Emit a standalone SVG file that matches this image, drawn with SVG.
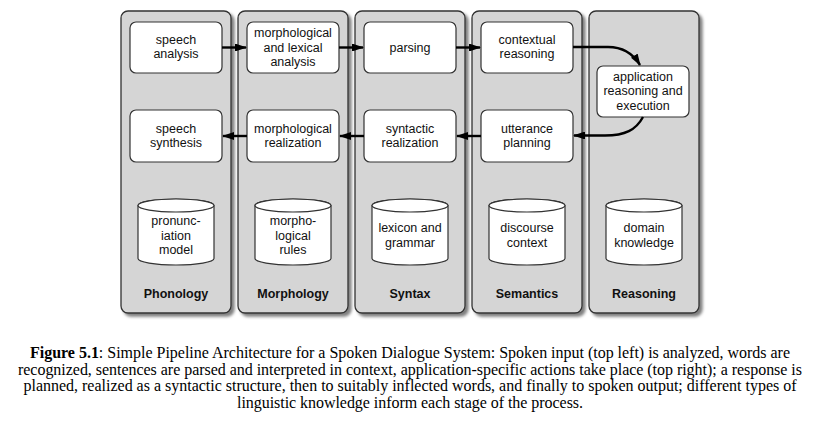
<svg xmlns="http://www.w3.org/2000/svg" width="820" height="425" viewBox="0 0 820 425">
<defs>
<filter id="sh" x="-10%" y="-10%" width="125%" height="125%">
<feDropShadow dx="3" dy="3" stdDeviation="1.6" flood-color="#000" flood-opacity="0.5"/>
</filter>
<marker id="ah" viewBox="0 0 12 8" refX="11" refY="4" markerWidth="5" markerHeight="3.33" markerUnits="strokeWidth" orient="auto">
<path d="M0,0 L12,4 L0,8 Z" fill="#000"/>
</marker>
<style>
.panel{fill:#d5d5d5;stroke:#333;stroke-width:1.3;filter:url(#sh)}
.box{fill:#fff;stroke:#333;stroke-width:1.2}
.cyl{fill:#fff;stroke:#333;stroke-width:1.2}
.t{font-family:"Liberation Sans",Arial,sans-serif;font-size:12.5px;fill:#111;text-anchor:middle}
.lab{font-family:"Liberation Sans",Arial,sans-serif;font-size:12.5px;font-weight:bold;fill:#111;text-anchor:middle}
.cap{font-family:"Liberation Serif","Times New Roman",serif;font-size:16px;fill:#000;text-anchor:middle}
.c{fill:none;stroke:#000;stroke-width:2.4;marker-end:url(#ah)}
</style>
</defs>
<rect width="820" height="425" fill="#fff"/>

<g id="panel-phonology"><rect class="panel" x="121" y="11" width="110" height="302" rx="7"/><text class="lab" x="176" y="298">Phonology</text></g>
<g id="panel-morphology"><rect class="panel" x="238" y="11" width="110" height="302" rx="7"/><text class="lab" x="293" y="298">Morphology</text></g>
<g id="panel-syntax"><rect class="panel" x="355" y="11" width="110" height="302" rx="7"/><text class="lab" x="410" y="298">Syntax</text></g>
<g id="panel-semantics"><rect class="panel" x="472" y="11" width="110" height="302" rx="7"/><text class="lab" x="527" y="298">Semantics</text></g>
<g id="panel-reasoning"><rect class="panel" x="589" y="11" width="110" height="302" rx="7"/><text class="lab" x="644" y="298">Reasoning</text></g>

<g id="speech-analysis"><rect class="box" x="130" y="22" width="92" height="51" rx="6"/><text class="t" x="176" y="44">speech</text><text class="t" x="176" y="58">analysis</text></g>
<g id="morph-lex-analysis"><rect class="box" x="247" y="22" width="92" height="51" rx="6"/><text class="t" x="293" y="37">morphological</text><text class="t" x="293" y="51.5">and lexical</text><text class="t" x="293" y="66">analysis</text></g>
<g id="parsing"><rect class="box" x="364" y="22" width="92" height="51" rx="6"/><text class="t" x="410" y="52">parsing</text></g>
<g id="contextual-reasoning"><rect class="box" x="481" y="22" width="92" height="51" rx="6"/><text class="t" x="527" y="44">contextual</text><text class="t" x="527" y="58">reasoning</text></g>
<g id="application"><rect class="box" x="597" y="66" width="92" height="51" rx="6"/><text class="t" x="643" y="80.5">application</text><text class="t" x="643" y="95">reasoning and</text><text class="t" x="643" y="109.5">execution</text></g>
<g id="speech-synthesis"><rect class="box" x="130" y="110" width="92" height="52" rx="6"/><text class="t" x="176" y="133">speech</text><text class="t" x="176" y="147">synthesis</text></g>
<g id="morph-realization"><rect class="box" x="247" y="110" width="92" height="52" rx="6"/><text class="t" x="293" y="133">morphological</text><text class="t" x="293" y="147">realization</text></g>
<g id="syntactic-realization"><rect class="box" x="364" y="110" width="92" height="52" rx="6"/><text class="t" x="410" y="133">syntactic</text><text class="t" x="410" y="147">realization</text></g>
<g id="utterance-planning"><rect class="box" x="481" y="110" width="92" height="52" rx="6"/><text class="t" x="527" y="133">utterance</text><text class="t" x="527" y="147">planning</text></g>

<g id="pronunciation-model" transform="translate(176,0)"><path class="cyl" d="M-38,205.5 V258.5 A38,6.5 0 0 0 38,258.5 V205.5 A38,6.5 0 0 0 -38,205.5 Z"/><ellipse class="cyl" cx="0" cy="205.5" rx="38" ry="6.5"/><text class="t" x="0" y="225">pronunc-</text><text class="t" x="0" y="239.5">iation</text><text class="t" x="0" y="254">model</text></g>
<g id="morphological-rules" transform="translate(293,0)"><path class="cyl" d="M-38,205.5 V258.5 A38,6.5 0 0 0 38,258.5 V205.5 A38,6.5 0 0 0 -38,205.5 Z"/><ellipse class="cyl" cx="0" cy="205.5" rx="38" ry="6.5"/><text class="t" x="0" y="225">morpho-</text><text class="t" x="0" y="239.5">logical</text><text class="t" x="0" y="254">rules</text></g>
<g id="lexicon-grammar" transform="translate(410,0)"><path class="cyl" d="M-38,205.5 V258.5 A38,6.5 0 0 0 38,258.5 V205.5 A38,6.5 0 0 0 -38,205.5 Z"/><ellipse class="cyl" cx="0" cy="205.5" rx="38" ry="6.5"/><text class="t" x="0" y="232">lexicon and</text><text class="t" x="0" y="246.5">grammar</text></g>
<g id="discourse-context" transform="translate(527,0)"><path class="cyl" d="M-38,205.5 V258.5 A38,6.5 0 0 0 38,258.5 V205.5 A38,6.5 0 0 0 -38,205.5 Z"/><ellipse class="cyl" cx="0" cy="205.5" rx="38" ry="6.5"/><text class="t" x="0" y="232">discourse</text><text class="t" x="0" y="246.5">context</text></g>
<g id="domain-knowledge" transform="translate(644,0)"><path class="cyl" d="M-38,205.5 V258.5 A38,6.5 0 0 0 38,258.5 V205.5 A38,6.5 0 0 0 -38,205.5 Z"/><ellipse class="cyl" cx="0" cy="205.5" rx="38" ry="6.5"/><text class="t" x="0" y="232">domain</text><text class="t" x="0" y="246.5">knowledge</text></g>

<g id="connectors">
<path class="c" d="M222,47.5 H246"/>
<path class="c" d="M339,47.5 H363"/>
<path class="c" d="M456,47.5 H480"/>
<path class="c" d="M573,47 H608 C622,47 632,52 640,65"/>
<path class="c" d="M643,117 C636,130 625,135.5 605,135.5 H574"/>
<path class="c" d="M481,136 H457"/>
<path class="c" d="M364,136 H340"/>
<path class="c" d="M247,136 H223"/>
</g>

<g id="caption">
<text class="cap" x="410" y="358" textLength="760" lengthAdjust="spacing"><tspan font-weight="bold">Figure 5.1</tspan>: Simple Pipeline Architecture for a Spoken Dialogue System: Spoken input (top left) is analyzed, words are</text>
<text class="cap" x="410" y="374.5" textLength="784" lengthAdjust="spacing">recognized, sentences are parsed and interpreted in context, application-specific actions take place (top right); a response is</text>
<text class="cap" x="410" y="391" textLength="773" lengthAdjust="spacing">planned, realized as a syntactic structure, then to suitably inflected words, and finally to spoken output; different types of</text>
<text class="cap" x="410" y="408" textLength="346" lengthAdjust="spacing">linguistic knowledge inform each stage of the process.</text>
</g>
</svg>
